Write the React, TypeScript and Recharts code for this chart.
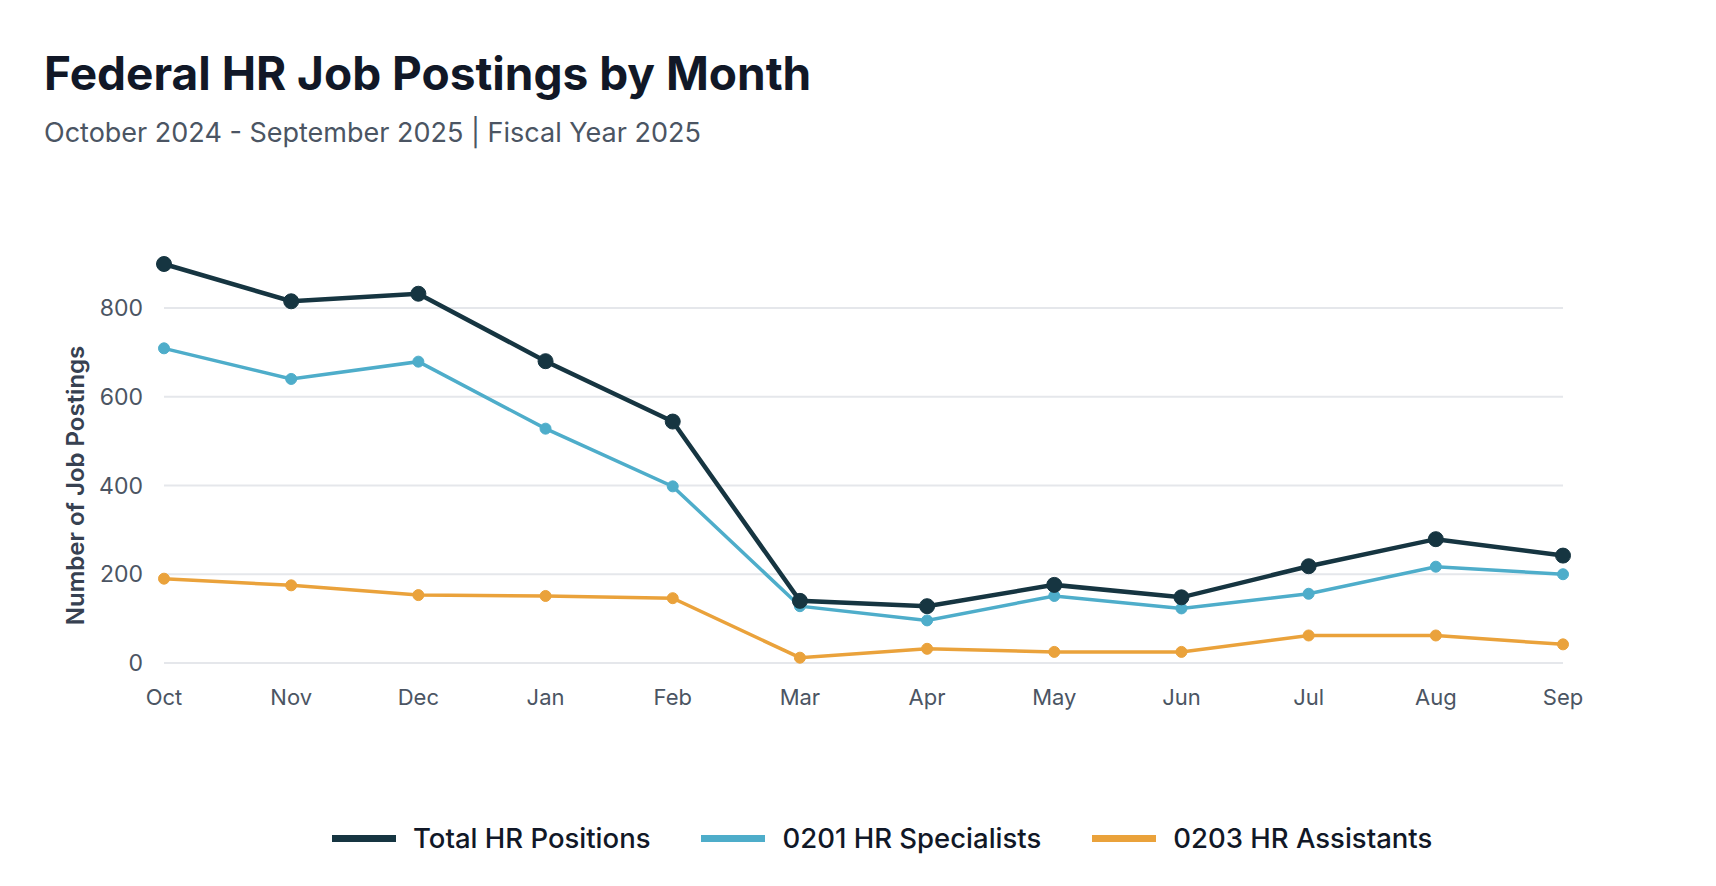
import React from 'react';
import { LineChart, Line, XAxis, YAxis, CartesianGrid } from 'recharts';

// Months of fiscal year 2025
const months = ['Oct', 'Nov', 'Dec', 'Jan', 'Feb', 'Mar', 'Apr', 'May', 'Jun', 'Jul', 'Aug', 'Sep'];

// Postings
const totalPositions = [899, 815, 832, 680, 544, 140, 128, 176, 148, 218, 279, 242];
const hrSpecialists = [709, 640, 679, 528, 398, 128, 96, 151, 123, 156, 217, 200];
const hrAssistants = [190, 175, 153, 151, 146, 12, 32, 25, 25, 62, 62, 42];

const yTicks = [0, 200, 400, 600, 800];

const series = [
  { key: 'total', name: 'Total HR Positions', color: '#163541', width: 4.5, r: 7.5 },
  { key: 'specialists', name: '0201 HR Specialists', color: '#4eadca', width: 3.5, r: 5.5 },
  { key: 'assistants', name: '0203 HR Assistants', color: '#eaa23b', width: 3.5, r: 5.5 },
];

const data = months.map((m, i) => ({
  month: m,
  total: totalPositions[i],
  specialists: hrSpecialists[i],
  assistants: hrAssistants[i],
}));

const FONT = 'Inter, "Noto Sans", sans-serif';

const YLabel = ({ viewBox }: any) => {
  const x = viewBox.x + 75;
  const y = viewBox.y + viewBox.height / 2 + 22;
  return (
    <text
      x={x}
      y={y}
      transform={`rotate(-90, ${x}, ${y})`}
      textAnchor="middle"
      dominantBaseline="central"
      fill="#374151"
      fontSize={24}
      fontWeight={600}
      fontFamily={FONT}
    >
      Number of Job Postings
    </text>
  );
};

export default function App() {
  return (
    <div
      style={{
        position: 'absolute',
        left: 0,
        top: 0,
        width: 1716,
        height: 886,
        background: '#ffffff',
        fontFamily: FONT,
        overflow: 'hidden',
      }}
    >
      <div
        style={{
          position: 'absolute',
          left: 44,
          top: 50,
          fontSize: 46,
          fontWeight: 700,
          color: '#111827',
          lineHeight: 1,
          whiteSpace: 'nowrap',
        }}
      >
        Federal HR Job Postings by Month
      </div>
      <div
        style={{
          position: 'absolute',
          left: 44,
          top: 119,
          fontSize: 27,
          color: '#4b5563',
          lineHeight: 1,
          whiteSpace: 'nowrap',
        }}
      >
        October 2024 - September 2025 | Fiscal Year 2025
      </div>

      <div style={{ position: 'absolute', left: 0, top: 200 }}>
        <LineChart
          width={1716}
          height={560}
          data={data}
          margin={{ top: 64, right: 153, left: 0, bottom: 57 }}
        >
          <CartesianGrid
            vertical={false}
            horizontalValues={yTicks}
            stroke="#e5e7eb"
            strokeWidth={2}
          />
          <XAxis
            dataKey="month"
            axisLine={false}
            tickLine={false}
            tickMargin={20}
            height={40}
            interval={0}
            tick={{ fill: '#4b5563', fontSize: 22, fontFamily: FONT }}
          />
          <YAxis
            width={164}
            domain={[0, 899]}
            ticks={yTicks}
            axisLine={false}
            tickLine={false}
            tickMargin={15}
            tick={{ fill: '#4b5563', fontSize: 23, fontFamily: FONT }}
            label={<YLabel />}
          />
          {series
            .slice()
            .reverse()
            .map((s) => (
              <Line
                key={s.key}
                type="linear"
                dataKey={s.key}
                name={s.name}
                stroke={s.color}
                strokeWidth={s.width}
                dot={{ r: s.r, fill: s.color, stroke: s.color, strokeWidth: 1 }}
                activeDot={false}
                isAnimationActive={false}
              />
            ))}
        </LineChart>
      </div>

      <div
        style={{
          position: 'absolute',
          left: 332,
          top: 823,
          display: 'flex',
          alignItems: 'center',
          gap: 51,
          fontSize: 27.5,
          fontWeight: 500,
          color: '#111827',
          lineHeight: '30px',
          whiteSpace: 'nowrap',
        }}
      >
        {series.map((s) => (
          <div key={s.key} style={{ display: 'flex', alignItems: 'center', gap: 17 }}>
            <div style={{ width: 64, height: 7, background: s.color }} />
            <span>{s.name}</span>
          </div>
        ))}
      </div>
    </div>
  );
}
